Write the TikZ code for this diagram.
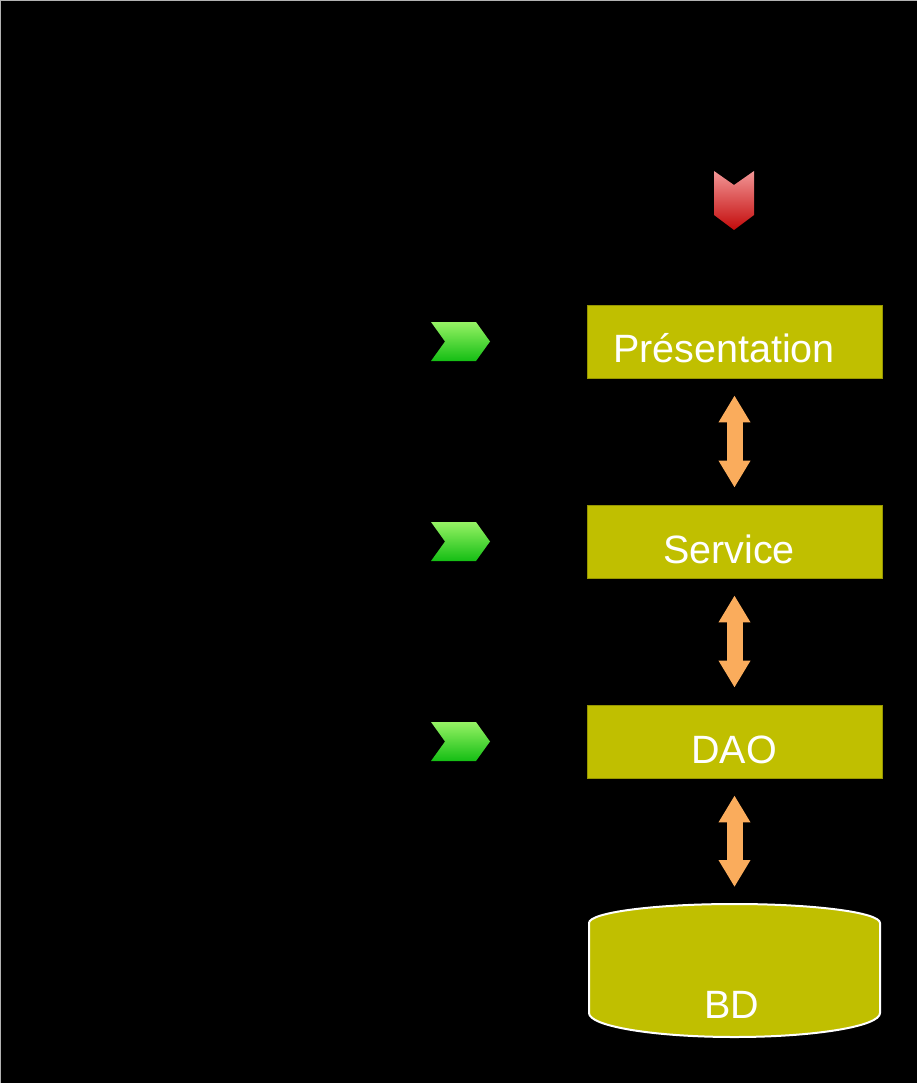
\documentclass[tikz,border=0pt]{standalone}
\usepackage{fontspec}
\setmainfont{Liberation Sans}
\usetikzlibrary{arrows.meta}
\definecolor{boxolive}{RGB}{192,191,0}
\definecolor{boxedge}{RGB}{150,150,0}
\definecolor{arroworange}{RGB}{250,172,92}
\definecolor{greentop}{RGB}{150,242,100}
\definecolor{greenbot}{RGB}{20,190,20}
\definecolor{redtop}{RGB}{242,150,150}
\definecolor{redbot}{RGB}{195,10,10}
\begin{document}
\begin{tikzpicture}[x=1pt,y=-1pt,
  layerbox/.style={fill=boxolive, draw=boxedge, line width=0.8pt, minimum width=295pt, minimum height=73pt, inner sep=0pt},
  lbl/.style={text=white, font=\fontsize{39.5}{46}\selectfont, inner sep=0pt, anchor=base},
  oarrow/.style={draw=arroworange, fill=arroworange, line width=16pt,
    {Triangle[length=27pt,width=30pt]}-{Triangle[length=27pt,width=30pt]},
    shorten <=17pt, shorten >=17pt},
  oshaft/.style={draw=arroworange, line width=16pt, shorten <=38pt, shorten >=38pt},
  greenchev/.style={top color=greentop, bottom color=greenbot},
  redchev/.style={top color=redtop, bottom color=redbot}
]
\fill[black] (0,0) rectangle (917,1083);
\useasboundingbox (0,0) rectangle (917,1083);
\draw[gray!60, line width=1pt] (0.5,1083) -- (0.5,0.5) -- (917,0.5);

% red chevron (top)
\shade[redchev] (714,171) -- (734,185) -- (754,171) -- (754,215) -- (734,230) -- (714,215) -- cycle;

% green chevrons
\foreach \yc in {341.5,541.5,741.5}{
  \shade[greenchev] (431,\yc-19.5) -- (476,\yc-19.5) -- (490,\yc) -- (476,\yc+19.5) -- (431,\yc+19.5) -- (445,\yc) -- cycle;
}

% layer boxes
\node[layerbox] (pres) at (734.5,341.5) {};
\node[layerbox] (serv) at (734.5,541.5) {};
\node[layerbox] (dao) at (734.5,741.5) {};
\node[lbl] (presl) at (724,362) {Présentation};
\node[lbl] (servl) at (729,563) {Service};
\node[lbl] (daol) at (734,763) {DAO};

% database cylinder
\filldraw[fill=boxolive, draw=white, line width=2pt]
  (589,923) arc[start angle=180, end angle=360, x radius=145.5, y radius=19]
  -- (880,1013) arc[start angle=0, end angle=180, x radius=145.5, y radius=24] -- cycle;
\coordinate (bdtop) at (734.5,904);
\node[lbl] (bd) at (732,1018) {BD};

% connectors
\draw[oarrow] (pres.south) -- (serv.north);
\draw[oshaft] (pres.south) -- (serv.north);
\draw[oarrow] (serv.south) -- (dao.north);
\draw[oshaft] (serv.south) -- (dao.north);
\draw[oarrow] (dao.south) -- (bdtop);
\draw[oshaft] (dao.south) -- (bdtop);
\end{tikzpicture}
\end{document}
